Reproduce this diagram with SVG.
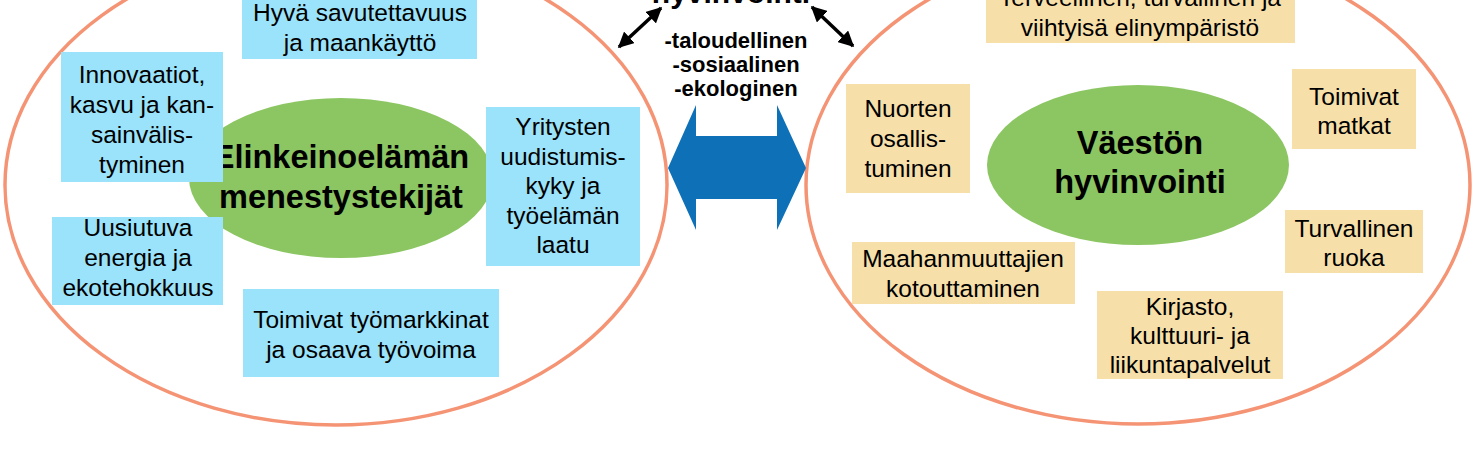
<svg xmlns="http://www.w3.org/2000/svg" width="1474" height="473" viewBox="0 0 1474 473">
<style>
.big{fill:none;stroke:#F59474;stroke-width:3.5}
.core{fill:#8CC663}
.bb{fill:#9BE3FA}
.tb{fill:#F7DFAA}
.t{font-family:"Liberation Sans",Arial,sans-serif;font-size:24.5px;fill:#000;text-anchor:middle}
.h{font-family:"Liberation Sans",Arial,sans-serif;font-size:32.5px;font-weight:bold;fill:#000;text-anchor:middle}
.c{font-family:"Liberation Sans",Arial,sans-serif;font-size:22px;font-weight:bold;fill:#000;text-anchor:middle}
.blk{stroke:#000;stroke-width:3.5;fill:none}
</style>
<defs>
<marker id="ah" viewBox="0 0 10 10" refX="9" refY="5" markerWidth="4.5" markerHeight="4.5" orient="auto-start-reverse" markerUnits="strokeWidth">
<path d="M0,0 L10,5 L0,10 z" fill="#000"/>
</marker>
</defs>
<rect width="1474" height="473" fill="#fff"/>

<g id="title">
<text class="h" x="731" y="3" style="font-size:30px">hyvinvointi</text>
<text class="c" x="736" y="48">-taloudellinen</text>
<text class="c" x="736" y="72">-sosiaalinen</text>
<text class="c" x="736" y="96">-ekologinen</text>
</g>

<g id="left-area">
<ellipse class="big" cx="336" cy="185" rx="331" ry="240"/>
</g>
<g id="right-area">
<ellipse class="big" cx="1138" cy="185" rx="332" ry="239"/>
</g>

<g id="connectors">
<polygon points="668,168 696,105 696,136 777,136 777,105 806,168 777,230 777,199 696,199 696,230" fill="#0E71B8"/>
<line class="blk" x1="619" y1="47" x2="661" y2="8" marker-start="url(#ah)" marker-end="url(#ah)"/>
<line class="blk" x1="812" y1="7" x2="853" y2="46" marker-start="url(#ah)" marker-end="url(#ah)"/>
</g>

<g id="elinkeino">
<ellipse class="core" cx="341" cy="178" rx="152" ry="80"/>
<text class="h" x="341" y="168">Elinkeinoelämän</text>
<text class="h" x="341" y="208">menestystekijät</text>
</g>

<g id="saavutettavuus">
<rect class="bb" x="242" y="-2" width="235" height="61"/>
<text class="t" x="360" y="21">Hyvä savutettavuus</text>
<text class="t" x="360" y="51">ja maankäyttö</text>
</g>

<g id="innovaatiot">
<rect class="bb" x="61" y="52" width="162" height="130"/>
<text class="t" x="142" y="83">Innovaatiot,</text>
<text class="t" x="142" y="113">kasvu ja kan-</text>
<text class="t" x="142" y="143">sainvälis-</text>
<text class="t" x="142" y="173">tyminen</text>
</g>

<g id="yritysten">
<rect class="bb" x="486" y="107" width="154" height="159"/>
<text class="t" x="563" y="135">Yritysten</text>
<text class="t" x="563" y="165">uudistumis-</text>
<text class="t" x="563" y="194">kyky ja</text>
<text class="t" x="563" y="224">työelämän</text>
<text class="t" x="563" y="253">laatu</text>
</g>

<g id="energia">
<rect class="bb" x="52" y="217" width="171" height="88"/>
<text class="t" x="138" y="236">Uusiutuva</text>
<text class="t" x="138" y="266">energia ja</text>
<text class="t" x="138" y="296">ekotehokkuus</text>
</g>

<g id="tyomarkkinat">
<rect class="bb" x="243" y="289" width="256" height="88"/>
<text class="t" x="371" y="328">Toimivat työmarkkinat</text>
<text class="t" x="371" y="358">ja osaava työvoima</text>
</g>

<g id="vaeston">
<ellipse class="core" cx="1138" cy="165" rx="151" ry="80"/>
<text class="h" x="1140" y="154">Väestön</text>
<text class="h" x="1140" y="193">hyvinvointi</text>
</g>

<g id="elinymparisto">
<rect class="tb" x="986" y="-2" width="309" height="45"/>
<text class="t" x="1140" y="6">Terveellinen, turvallinen ja</text>
<text class="t" x="1140" y="36">viihtyisä elinympäristö</text>
</g>

<g id="nuorten">
<rect class="tb" x="846" y="84" width="124" height="109"/>
<text class="t" x="908" y="117">Nuorten</text>
<text class="t" x="908" y="147">osallis-</text>
<text class="t" x="908" y="177">tuminen</text>
</g>

<g id="matkat">
<rect class="tb" x="1292" y="69" width="124" height="80"/>
<text class="t" x="1354" y="105">Toimivat</text>
<text class="t" x="1354" y="134">matkat</text>
</g>

<g id="ruoka">
<rect class="tb" x="1285" y="210" width="138" height="63"/>
<text class="t" x="1354" y="237">Turvallinen</text>
<text class="t" x="1354" y="266">ruoka</text>
</g>

<g id="maahanmuuttajat">
<rect class="tb" x="852" y="242" width="223" height="62"/>
<text class="t" x="963" y="267">Maahanmuuttajien</text>
<text class="t" x="963" y="297">kotouttaminen</text>
</g>

<g id="kirjasto">
<rect class="tb" x="1097" y="291" width="186" height="88"/>
<text class="t" x="1190" y="315">Kirjasto,</text>
<text class="t" x="1190" y="344">kulttuuri- ja</text>
<text class="t" x="1190" y="373">liikuntapalvelut</text>
</g>
</svg>
